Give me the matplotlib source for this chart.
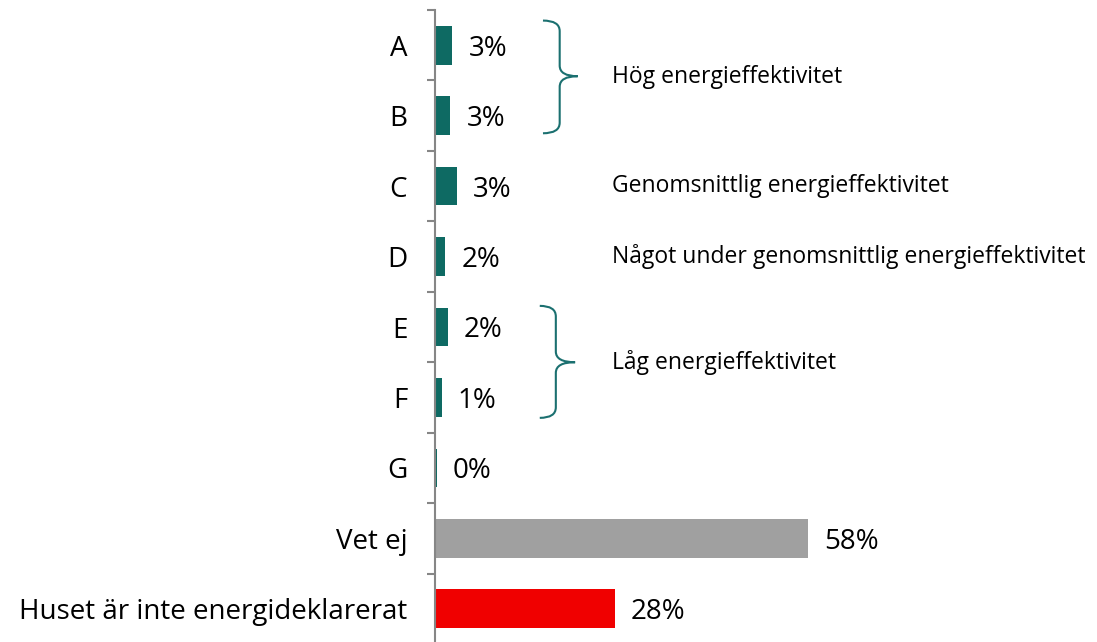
import matplotlib
matplotlib.use("Agg")
import matplotlib.pyplot as plt
from matplotlib.path import Path
from matplotlib.patches import PathPatch

# data
categories = ['A', 'B', 'C', 'D', 'E', 'F', 'G', 'Vet ej', 'Huset är inte energideklarerat']
values = [2.7, 2.4, 3.4, 1.6, 2.0, 1.05, 0.25, 58, 28]
value_labels = ['3%', '3%', '3%', '2%', '2%', '1%', '0%', '58%', '28%']
bar_colors = ['#0e6a63'] * 7 + ['#a0a0a0', '#f00000']

groups = ['Hög energieffektivitet', 'Genomsnittlig energieffektivitet',
          'Något under genomsnittlig energieffektivitet', 'Låg energieffektivitet']
group_pos = [0.45, 2, 3, 4.5]

plt.rcParams['font.family'] = ['Open Sans', 'DejaVu Sans']

fig = plt.figure(figsize=(10.97, 6.42), dpi=100)
ax = fig.add_axes([435 / 1097, -2 / 642, 662 / 1097, 634 / 642])

y = range(len(categories))
ax.barh(y, values, height=0.55, color=bar_colors)
ax.set_xlim(0, 103)
ax.set_ylim(8.5, -0.5)

for i, (v, lab) in enumerate(zip(values, value_labels)):
    ax.annotate(lab, (v, i), xytext=(11.5, -2.5), textcoords='offset points',
                ha='left', va='center', fontsize=20, color='black')

# axis styling
for s in ['top', 'right', 'bottom']:
    ax.spines[s].set_visible(False)
ax.spines['left'].set_color('#868686')
ax.spines['left'].set_linewidth(1.5)
ax.set_xticks([])
ax.set_yticks(list(y))
ax.set_yticklabels(categories, fontsize=20)
ax.tick_params(axis='y', which='major', length=0, pad=20)
ax.set_yticks([i - 0.5 for i in range(len(categories) + 1)], minor=True)
ax.tick_params(axis='y', which='minor', length=6, width=1.5, color='#868686')


def brace(x0, xv, xt, y_top, y_mid, y_bot, r=0.15, color='#1b7070'):
    verts = [(x0, y_top), (xv, y_top), (xv, y_top + r),
             (xv, y_mid - r), (xv, y_mid), (xt, y_mid),
             (xv, y_mid), (xv, y_mid + r),
             (xv, y_bot - r), (xv, y_bot), (x0, y_bot)]
    codes = [Path.MOVETO, Path.CURVE3, Path.CURVE3,
             Path.LINETO, Path.CURVE3, Path.CURVE3,
             Path.CURVE3, Path.CURVE3,
             Path.LINETO, Path.CURVE3, Path.CURVE3]
    ax.add_patch(PathPatch(Path(verts, codes), fill=False, edgecolor=color,
                           linewidth=1.5, clip_on=False))


brace(16.8, 19.4, 22.2, -0.35, 0.44, 1.25)
brace(16.3, 18.8, 21.8, 3.70, 4.5, 5.29)

for g, p in zip(groups, group_pos):
    ax.text(27.5, p, g, ha='left', va='center', fontsize=16.5, color='black')

fig.savefig('out.png', dpi=100)
